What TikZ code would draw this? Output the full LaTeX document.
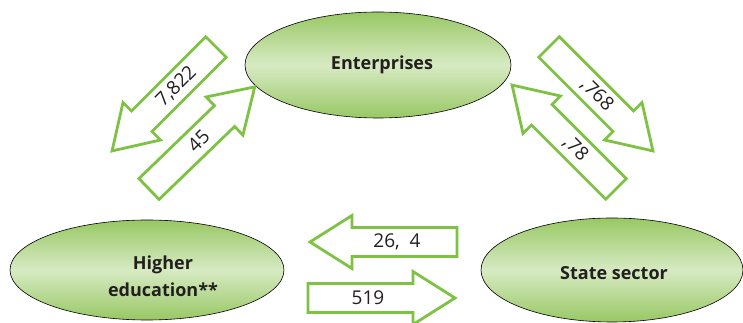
\documentclass[tikz,border=0pt]{standalone}
\usepackage{fontspec}
\setmainfont{Open Sans}
\usetikzlibrary{shapes.geometric}
\definecolor{arrgreen}{HTML}{7DC242}
\definecolor{elledge}{HTML}{98C864}
\definecolor{ellmid}{HTML}{D7EAC3}
\definecolor{txt}{HTML}{231F20}
\tikzset{
  sector/.style={ellipse, draw=black, line width=0.6pt, top color=elledge, bottom color=elledge, middle color=ellmid, inner sep=0pt},
  sectorlabel/.style={font=\bfseries\fontsize{18}{27}\selectfont, text=txt, align=center, inner sep=0pt},
  flow/.style={draw=arrgreen, line width=2.8pt, fill=white, line join=miter},
  flowlabel/.style={font=\fontsize{19}{22}\selectfont, text=txt, inner sep=0pt},
}
\newcommand\flowarrow[7]{%
  \begin{scope}[shift={(#2,#3)}, rotate=#4]
    \draw[flow] (0,-14.5) -- (105,-14.5) -- (105,-26.5) -- (147,0) -- (105,26.5) -- (105,14.5) -- (0,14.5) -- cycle;
    \node[flowlabel, rotate=#7] (#1) at (#6,0) {#5};
  \end{scope}}
\begin{document}
\begin{tikzpicture}[x=1pt,y=1pt]
  \useasboundingbox (0,0) rectangle (743,323);
  \node[sector, minimum width=266pt, minimum height=106pt] (ent) at (378,258) {};
  \node[sectorlabel] (entl) at ([xshift=4pt]ent.center) {Enterprises};
  \node[sector, minimum width=274pt, minimum height=100pt] (he) at (147,53) {};
  \node[sectorlabel] (hel) at ([xshift=16pt,yshift=-6pt]he.center) {Higher\\education**};
  \node[sector, minimum width=262pt, minimum height=104pt] (st) at (612,53) {};
  \node[sectorlabel] (stl) at ([xshift=2pt,yshift=-3pt]st.center) {State sector};

  \flowarrow{a1}{216}{276}{225}{7,822}{56}{45}
  \flowarrow{a2}{149}{134}{44}{45}{69}{45}
  \flowarrow{a3}{549}{276}{-45}{,768}{68}{-45}
  \flowarrow{a4}{616}{134}{135}{,78}{57}{-45}
  \flowarrow{a5}{457}{81}{180}{26,~~4}{60}{0}
  \flowarrow{a6}{308}{25}{0}{519}{60}{0}
\end{tikzpicture}
\end{document}
